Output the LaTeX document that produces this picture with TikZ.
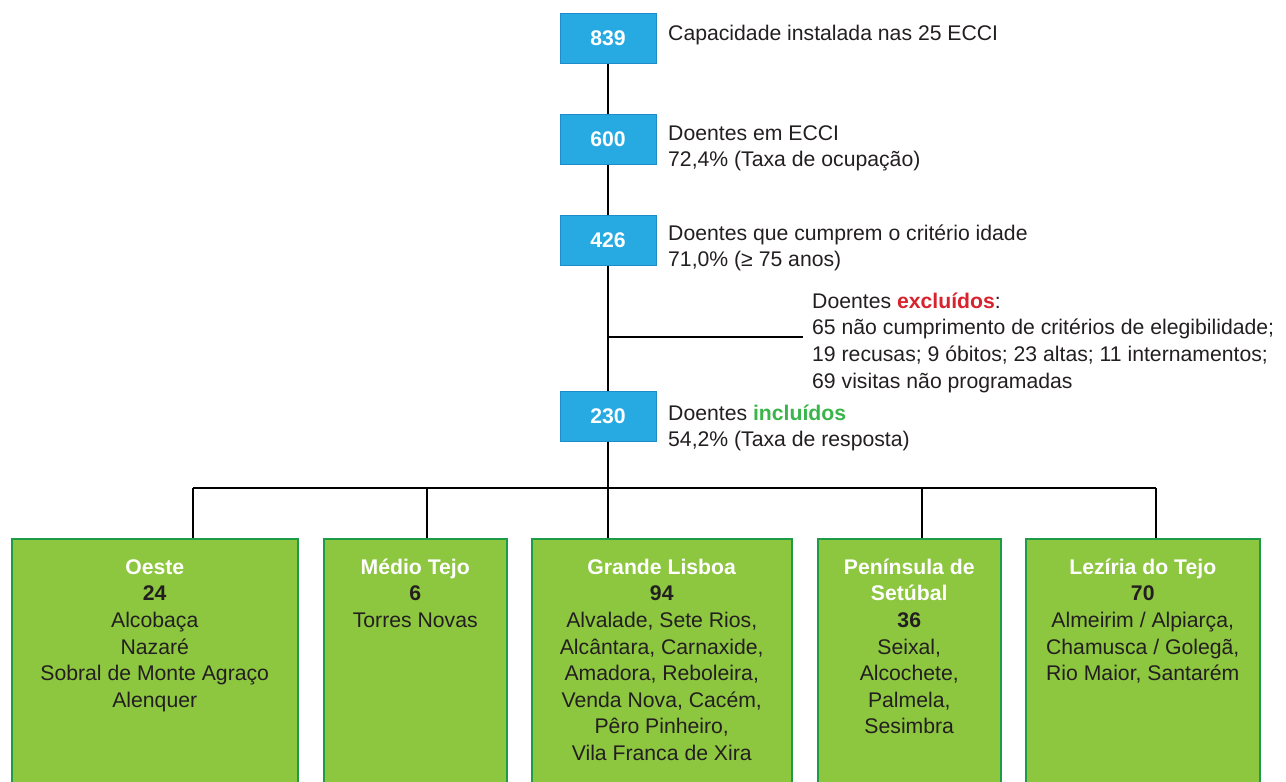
\documentclass[tikz,border=0pt]{standalone}
\usepackage{fontspec}
\setmainfont{Liberation Sans}
\usepackage{xcolor}
\definecolor{ecciblue}{RGB}{39,170,225}
\definecolor{ecciblueline}{RGB}{30,140,200}
\definecolor{regiongreen}{RGB}{141,198,63}
\definecolor{regionline}{RGB}{30,155,70}
\definecolor{darktext}{RGB}{35,31,32}
\definecolor{exred}{RGB}{215,35,45}
\definecolor{ingreen}{RGB}{57,181,74}
\usetikzlibrary{positioning}

\newcommand{\regtitle}[1]{\textcolor{white}{\textbf{#1}}}
% first line of a text block: 22pt above its baseline
\newcommand{\toplead}{\rule{0pt}{22pt}}

\begin{document}
\begin{tikzpicture}[
    x=1pt, y=-1pt,
    font=\fontsize{21.2}{26.6}\selectfont,
    every node/.style={text=darktext},
    countbox/.style={draw=ecciblueline, fill=ecciblue, line width=1pt, minimum width=96pt, minimum height=50pt, inner sep=0pt, text=white, font=\fontsize{21.2}{26.6}\selectfont\bfseries},
    infotext/.style={anchor=north west, inner sep=0pt, align=left},
    regionbox/.style={draw=regionline, fill=regiongreen, line width=1.5pt, anchor=north west, minimum height=260pt, inner sep=0pt},
    regiontext/.style={anchor=north, inner sep=0pt, align=center},
    link/.style={draw=black, line width=1.2pt}
  ]
  \useasboundingbox (0,0) rectangle (1286,782);

  % flow of patients
  \node (n839) [countbox] at (608,38) {839};
  \node (n600) [countbox, below=50pt of n839] {600};
  \node (n426) [countbox, below=50pt of n600] {426};
  \node (n230) [countbox, below=125pt of n426] {230};

  \node (t839) [infotext] at (668,18) {\toplead Capacidade instalada nas 25 ECCI};
  \node (t600) [infotext] at (668,118) {\toplead Doentes em ECCI\\72,4\% (Taxa de ocupação)};
  \node (t426) [infotext] at (668,218) {\toplead Doentes que cumprem o critério idade\\71,0\% (≥ 75 anos)};
  \node (excl) [infotext] at (812,286) {\toplead Doentes \textcolor{exred}{\textbf{excluídos}}:\\65 não cumprimento de critérios de elegibilidade;\\19 recusas; 9 óbitos; 23 altas; 11 internamentos;\\69 visitas não programadas};
  \node (t230) [infotext] at (668,398) {\toplead Doentes \textcolor{ingreen}{\textbf{incluídos}}\\54,2\% (Taxa de resposta)};

  % regions
  \node (oeste) [regionbox, minimum width=286pt] at (11,538) {};
  \node (medio) [regionbox, minimum width=183pt] at (323,538) {};
  \node (lisboa) [regionbox, minimum width=260pt] at (531,538) {};
  \node (setubal) [regionbox, minimum width=183pt] at (817,538) {};
  \node (leziria) [regionbox, minimum width=234pt] at (1025,538) {};

  \node (oeste-txt) [regiontext] at (oeste.north |- 0,552) {\toplead\regtitle{Oeste}\\\textbf{24}\\Alcobaça\\Nazaré\\Sobral de Monte Agraço\\Alenquer};
  \node (medio-txt) [regiontext] at (medio.north |- 0,552) {\toplead\regtitle{Médio Tejo}\\\textbf{6}\\Torres Novas};
  \node (lisboa-txt) [regiontext] at (lisboa.north |- 0,552) {\toplead\regtitle{Grande Lisboa}\\\textbf{94}\\Alvalade, Sete Rios,\\Alcântara, Carnaxide,\\Amadora, Reboleira,\\Venda Nova, Cacém,\\Pêro Pinheiro,\\Vila Franca de Xira};
  \node (setubal-txt) [regiontext] at (setubal.north |- 0,552) {\toplead\regtitle{Península de}\\\regtitle{Setúbal}\\\textbf{36}\\Seixal,\\Alcochete,\\Palmela,\\Sesimbra};
  \node (leziria-txt) [regiontext] at (leziria.north |- 0,552) {\toplead\regtitle{Lezíria do Tejo}\\\textbf{70}\\Almeirim / Alpiarça,\\Chamusca / Golegã,\\Rio Maior, Santarém};

  % connectors
  \coordinate (exsplit) at (n426.south |- 0,337);
  \coordinate (exend) at (803,337);
  \coordinate (d-oeste) at (193,488);
  \coordinate (d-medio) at (427,488);
  \coordinate (d-lisboa) at (n230.south |- 0,488);
  \coordinate (d-setubal) at (922,488);
  \coordinate (d-leziria) at (1156,488);

  \draw[link] (n839) -- (n600);
  \draw[link] (n600) -- (n426);
  \draw[link] (n426) -- (n230);
  \draw[link] (exsplit) -- (exend);
  \draw[link] (n230) -- (d-lisboa);
  \draw[link] (d-oeste) -- (d-leziria);
  \draw[link] (d-oeste) -- (d-oeste |- oeste.north);
  \draw[link] (d-medio) -- (d-medio |- medio.north);
  \draw[link] (d-lisboa) -- (d-lisboa |- lisboa.north);
  \draw[link] (d-setubal) -- (d-setubal |- setubal.north);
  \draw[link] (d-leziria) -- (d-leziria |- leziria.north);
\end{tikzpicture}
\end{document}
